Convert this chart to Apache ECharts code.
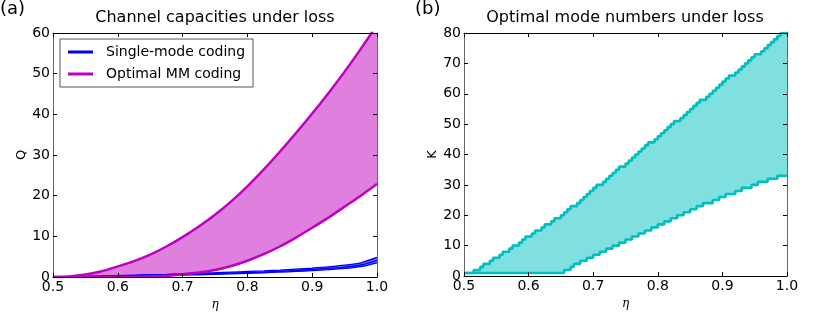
<!DOCTYPE html>
<html>
<head>
<meta charset="utf-8">
<script src="https://cdn.jsdelivr.net/npm/echarts@6/dist/echarts.min.js"></script>
<style>
html,body{margin:0;padding:0;background:#fff;}
#chart{width:830px;height:316px;}
</style>
</head>
<body>
<div id="chart"></div>
<script>
// ---- Panel (a) data: channel capacities Q vs eta ----
const etaA = [0.5, 0.525, 0.55, 0.575, 0.6, 0.625, 0.65, 0.675, 0.7, 0.725, 0.75, 0.775, 0.8, 0.825, 0.85, 0.875, 0.9, 0.925, 0.95, 0.975, 1.0];
const qMMUpper = [0, 0.15, 0.6, 1.4, 2.6, 3.9, 5.5, 7.5, 9.8, 12.4, 15.3, 18.6, 22.3, 26.4, 30.8, 35.4, 40.2, 45.2, 50.5, 56.1, 62.0];
const qMMLower = [0, 0, 0, 0, 0, 0.04, 0.12, 0.3, 0.7, 1.1, 1.7, 2.7, 4.0, 5.6, 7.5, 9.7, 12.1, 14.6, 17.3, 20.0, 22.9];
const qSMUpper = [0, 0.07, 0.15, 0.25, 0.35, 0.45, 0.55, 0.67, 0.8, 0.92, 1.05, 1.2, 1.35, 1.5, 1.7, 1.95, 2.2, 2.5, 2.9, 3.5, 4.8];
const qSMMid   = [0, 0.04, 0.1, 0.17, 0.25, 0.33, 0.42, 0.51, 0.6, 0.7, 0.82, 0.95, 1.08, 1.22, 1.4, 1.6, 1.85, 2.1, 2.45, 2.95, 4.1];
const qSMLower = [0, 0.02, 0.05, 0.1, 0.15, 0.22, 0.3, 0.37, 0.45, 0.55, 0.65, 0.77, 0.9, 1.03, 1.2, 1.37, 1.55, 1.8, 2.1, 2.55, 3.5];

// ---- Panel (b) data: optimal mode numbers K vs eta ----
const etaB = [
  0.500,0.505,0.510,0.515,0.520,0.525,0.530,0.535,0.540,0.545,
  0.550,0.555,0.560,0.565,0.570,0.575,0.580,0.585,0.590,0.595,
  0.600,0.605,0.610,0.615,0.620,0.625,0.630,0.635,0.640,0.645,
  0.650,0.655,0.660,0.665,0.670,0.675,0.680,0.685,0.690,0.695,
  0.700,0.705,0.710,0.715,0.720,0.725,0.730,0.735,0.740,0.745,
  0.750,0.755,0.760,0.765,0.770,0.775,0.780,0.785,0.790,0.795,
  0.800,0.805,0.810,0.815,0.820,0.825,0.830,0.835,0.840,0.845,
  0.850,0.855,0.860,0.865,0.870,0.875,0.880,0.885,0.890,0.895,
  0.900,0.905,0.910,0.915,0.920,0.925,0.930,0.935,0.940,0.945,
  0.950,0.955,0.960,0.965,0.970,0.975,0.980,0.985,0.990,0.995,
  1.000];
const kUpper = [
  1,1,1,2,2,3,4,4,5,6,
  6,7,8,8,9,10,10,11,12,13,
  13,14,15,15,16,17,17,18,19,19,
  20,21,22,23,23,24,25,26,27,28,
  29,30,30,31,32,33,34,35,36,36,
  37,38,39,40,41,42,43,44,44,45,
  46,47,48,49,50,51,51,52,53,54,
  55,56,57,58,58,59,60,61,62,63,
  64,65,66,66,67,68,69,70,71,72,
  73,73,74,75,76,77,78,79,80,80,
  81];
const kLower = [
  1,1,1,1,1,1,1,1,1,1,
  1,1,1,1,1,1,1,1,1,1,
  1,1,1,1,1,1,1,1,1,1,
  1,2,2,3,4,4,5,5,6,6,
  7,7,8,8,9,9,10,10,11,11,
  12,12,13,13,14,14,15,15,16,16,
  17,17,18,18,19,19,20,20,21,21,
  22,22,23,23,24,24,24,25,25,26,
  26,27,27,27,28,28,29,29,29,30,
  30,31,31,31,32,32,32,33,33,33,
  33];

// ---- Text ----
const titleA = 'Channel capacities under loss';
const titleB = 'Optimal mode numbers under loss';
const legendNames = ['Single-mode coding', 'Optimal MM coding'];

const pairs = (xs, ys) => xs.map((x, i) => [x, ys[i]]);

const FONT = 'DejaVu Sans';
const MAG = '#bf00bf', MAGFILL = '#df80df', BLUE = '#0000ff', CYAN = '#00bfbf', CYANFILL = '#80dfdf';

// Fill between two curves, positioned through the axes (api.coord).
function band(xs, up, lo, step, fill, opacity) {
  return function (params, api) {
    const top = [], bot = [];
    const n = xs.length;
    for (let i = 0; i < n; i++) {
      top.push(api.coord([xs[i], up[i]]));
      bot.push(api.coord([xs[i], lo[i]]));
      if (step && i < n - 1) {
        top.push(api.coord([xs[i + 1], up[i]]));
        bot.push(api.coord([xs[i + 1], lo[i]]));
      }
    }
    return {
      type: 'polygon',
      shape: {points: top.concat(bot.reverse())},
      style: {fill: fill, opacity: opacity, stroke: null}
    };
  };
}

function xAxes(grid, name) {
  const base = {
    gridIndex: grid, type: 'value', min: 0.5, max: 1.0, interval: 0.1, z: 5,
    splitLine: {show: false},
    axisTick: {show: true, inside: true, length: 4, lineStyle: {color: '#000'}},
  };
  return [
    Object.assign({}, base, {
      position: 'bottom',
      axisLine: {show: true, onZero: false, lineStyle: {color: '#000', width: 1}},
      axisLabel: {show: true, margin: 3, fontSize: 14, color: '#000', fontFamily: FONT,
                  formatter: v => v.toFixed(1)},
      name: name, nameLocation: 'middle', nameGap: 13,
      nameTextStyle: {fontFamily: 'DejaVu Serif', fontStyle: 'italic', fontSize: 12, color: '#000'}
    }),
    Object.assign({}, base, {
      position: 'top',
      axisLine: {show: true, onZero: false, lineStyle: {color: '#000', width: 1}},
      axisLabel: {show: false}
    })
  ];
}
function yAxes(grid, max, name) {
  const base = {
    gridIndex: grid, type: 'value', min: 0, max: max, interval: 10, z: 5,
    splitLine: {show: false},
    axisTick: {show: true, inside: true, length: 4, lineStyle: {color: '#000'}},
  };
  return [
    Object.assign({}, base, {
      position: 'left',
      axisLine: {show: true, onZero: false, lineStyle: {color: '#666', width: 1}},
      axisLabel: {show: true, margin: 3, fontSize: 14, color: '#000', fontFamily: FONT},
      name: name, nameLocation: 'middle', nameGap: 25,
      nameTextStyle: {fontFamily: FONT, fontSize: 13, color: '#000'}
    }),
    Object.assign({}, base, {
      position: 'right',
      axisLine: {show: true, onZero: false, lineStyle: {color: '#666', width: 1}},
      axisLabel: {show: false}
    })
  ];
}

const lineBase = {type: 'line', showSymbol: false, symbol: 'none', silent: true, animation: false};

const series = [
  // Panel (a)
  {type: 'custom', name: 'mmFill', xAxisIndex: 0, yAxisIndex: 0, clip: true, silent: true, z: 1,
   data: [[0.75, 10]], renderItem: band(etaA, qMMUpper, qMMLower, false, MAGFILL, 1)},
  {type: 'custom', name: 'smFill', xAxisIndex: 0, yAxisIndex: 0, clip: true, silent: true, z: 2,
   data: [[0.75, 1]], renderItem: band(etaA, qSMUpper, qSMLower, false, BLUE, 0.55)},
  Object.assign({}, lineBase, {name: legendNames[0], xAxisIndex: 0, yAxisIndex: 0, smooth: 0.3,
    data: pairs(etaA, qSMUpper), lineStyle: {color: BLUE, width: 1.3}, itemStyle: {color: BLUE}, z: 3}),
  Object.assign({}, lineBase, {name: 'smMid', xAxisIndex: 0, yAxisIndex: 0, smooth: 0.3,
    data: pairs(etaA, qSMMid), lineStyle: {color: BLUE, width: 1.3}, z: 3}),
  Object.assign({}, lineBase, {name: 'smLow', xAxisIndex: 0, yAxisIndex: 0, smooth: 0.3,
    data: pairs(etaA, qSMLower), lineStyle: {color: BLUE, width: 1.3}, z: 3}),
  Object.assign({}, lineBase, {name: legendNames[1], xAxisIndex: 0, yAxisIndex: 0, smooth: 0.3,
    data: pairs(etaA, qMMUpper), lineStyle: {color: MAG, width: 2.5}, itemStyle: {color: MAG}, z: 4}),
  Object.assign({}, lineBase, {name: 'mmLow', xAxisIndex: 0, yAxisIndex: 0, smooth: 0.3,
    data: pairs(etaA, qMMLower), lineStyle: {color: MAG, width: 2.5}, z: 4}),

  // Panel (b)
  {type: 'custom', name: 'kFill', xAxisIndex: 2, yAxisIndex: 2, clip: true, silent: true, z: 1,
   data: [[0.75, 20]], renderItem: band(etaB, kUpper, kLower, true, CYANFILL, 1)},
  Object.assign({}, lineBase, {name: 'kLow', xAxisIndex: 2, yAxisIndex: 2, step: 'end',
    data: pairs(etaB, kLower), lineStyle: {color: CYAN, width: 2.6}, z: 3}),
  Object.assign({}, lineBase, {name: 'kUp', xAxisIndex: 2, yAxisIndex: 2, step: 'end',
    data: pairs(etaB, kUpper), lineStyle: {color: CYAN, width: 2.6}, z: 3})
];

const option = {
  backgroundColor: '#fff',
  animation: false,
  title: [
    {text: '(a)', left: 0, top: 0, padding: 0, textStyle: {fontFamily: FONT, fontSize: 18, fontWeight: 'normal', color: '#000'}},
    {text: '(b)', left: 415, top: 0, padding: 0, textStyle: {fontFamily: FONT, fontSize: 18, fontWeight: 'normal', color: '#000'}},
    {text: titleA, left: 215, textAlign: 'center', top: 10, padding: 0, textStyle: {fontFamily: FONT, fontSize: 16, fontWeight: 'normal', color: '#000'}},
    {text: titleB, left: 625, textAlign: 'center', top: 10, padding: 0, textStyle: {fontFamily: FONT, fontSize: 16, fontWeight: 'normal', color: '#000'}}
  ],
  legend: {
    show: true, orient: 'vertical', left: 60, top: 39,
    data: [{name: legendNames[0], icon: 'rect'}, {name: legendNames[1], icon: 'rect'}],
    itemWidth: 25, itemHeight: 3, itemGap: 8,
    padding: [6, 8, 6, 8],
    borderColor: '#555', borderWidth: 1, backgroundColor: '#fff',
    textStyle: {fontFamily: FONT, fontSize: 14, color: '#000', padding: [0, 0, 0, 8]},
    selectedMode: false
  },
  grid: [
    {left: 53, top: 33, width: 324, height: 244, show: false},
    {left: 464, top: 33, width: 323, height: 243, show: false}
  ],
  xAxis: [...xAxes(0, 'η'), ...xAxes(1, 'η')],
  yAxis: [...yAxes(0, 60, 'Q'), ...yAxes(1, 80, 'K')],
  series: series
};

const chart = echarts.init(document.getElementById('chart'), null, {renderer: 'canvas'});
chart.setOption(option);
</script>
</body>
</html>
